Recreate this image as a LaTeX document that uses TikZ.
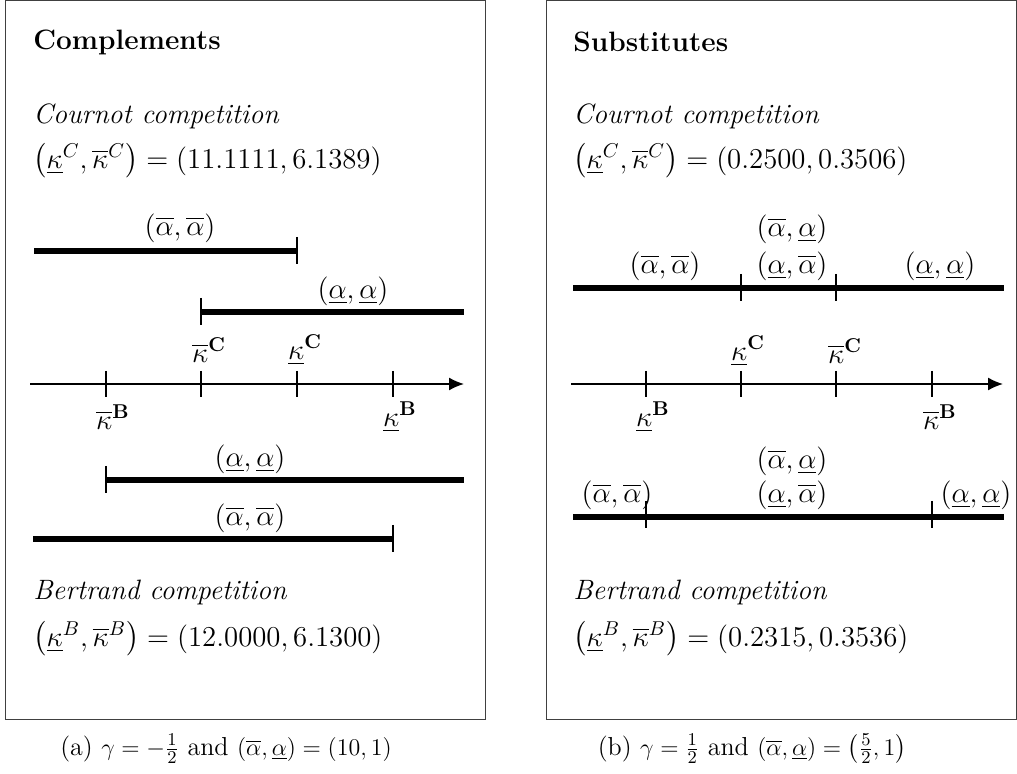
\documentclass[tikz,border=0pt]{standalone}
\usepackage{amsmath}
\usetikzlibrary{arrows.meta}
\newcommand{\fsz}{\fontsize{14}{16.8}\selectfont}
\newcommand{\capsz}{\fontsize{13}{15.6}\selectfont}
\begin{document}
\begin{tikzpicture}[x=0.5pt,y=-0.5pt,
  frame/.style={draw=black!75, line width=0.5pt},
  bar/.style={line width=2.7pt},
  tickmark/.style={line width=0.55pt},
  axisline/.style={line width=0.75pt, -{Latex[length=7.5pt,width=6.5pt]}},
  txt/.style={inner sep=0pt, anchor=west, font=\fsz},
  lbl/.style={inner sep=0pt, font=\fsz},
  captxt/.style={inner sep=0pt, font=\capsz}]
\useasboundingbox (0,0) rectangle (1017,774);
% frames
\draw[frame] (5,1) rectangle (485,719);
\draw[frame] (546,1) rectangle (1016.5,719);

% ===== Left panel: Complements =====
\node[txt] (lt) at (33,42) {\textbf{Complements}};
\node[txt] (lc) at (33,116) {\textit{Cournot competition}};
\node[txt] (lcv) at (33,161) {$\left(\underline{\kappa}^C,\overline{\kappa}^C\right)=(11.1111,6.1389)$};
\node[txt] (lb) at (33,592) {\textit{Bertrand competition}};
\node[txt] (lbv) at (33,639) {$\left(\underline{\kappa}^B,\overline{\kappa}^B\right)=(12.0000,6.1300)$};

% axis
\coordinate (la0) at (30,384);
\coordinate (la1) at (464,384);
\draw[axisline] (la0) -- (la1);
\foreach \n/\x in {1/106,2/201,3/297,4/393}{
  \coordinate (lt\n) at (\x,384);
  \draw[tickmark] ([yshift=6.5pt]lt\n) -- ([yshift=-6.5pt]lt\n);
}
\node[lbl] (lkcb) at (209,350) {$\overline{\kappa}^{\mathbf{C}}$};
\node[lbl] (lkcu) at (305,350) {$\underline{\kappa}^{\mathbf{C}}$};
\node[lbl] (lkbb) at (113,417) {$\overline{\kappa}^{\mathbf{B}}$};
\node[lbl] (lkbu) at (400,417) {$\underline{\kappa}^{\mathbf{B}}$};

% bars (Cournot)
\coordinate (l1a) at (34,251); \coordinate (l1b) at (297,251);
\draw[bar] (l1a) -- (l1b);
\draw[tickmark] ([yshift=7pt]l1b) -- ([yshift=-6.5pt]l1b);
\node[lbl] (l1t) at (180,228) {$(\overline{\alpha},\overline{\alpha})$};

\coordinate (l2a) at (201,312); \coordinate (l2b) at (464,312);
\draw[bar] (l2a) -- (l2b);
\draw[tickmark] ([yshift=7pt]l2a) -- ([yshift=-6.5pt]l2a);
\node[lbl] (l2t) at (353,291) {$(\underline{\alpha},\underline{\alpha})$};

% bars (Bertrand)
\coordinate (l3a) at (106,480); \coordinate (l3b) at (464,480);
\draw[bar] (l3a) -- (l3b);
\draw[tickmark] ([yshift=7pt]l3a) -- ([yshift=-6.5pt]l3a);
\node[lbl] (l3t) at (250,459) {$(\underline{\alpha},\underline{\alpha})$};

\coordinate (l4a) at (33,539); \coordinate (l4b) at (393,539);
\draw[bar] (l4a) -- (l4b);
\draw[tickmark] ([yshift=7pt]l4b) -- ([yshift=-6.5pt]l4b);
\node[lbl] (l4t) at (250,518) {$(\overline{\alpha},\overline{\alpha})$};

% ===== Right panel: Substitutes =====
\node[txt] (rt) at (573,42) {\textbf{Substitutes}};
\node[txt] (rc) at (573,116) {\textit{Cournot competition}};
\node[txt] (rcv) at (573,161) {$\left(\underline{\kappa}^C,\overline{\kappa}^C\right)=(0.2500,0.3506)$};
\node[txt] (rb) at (573,592) {\textit{Bertrand competition}};
\node[txt] (rbv) at (573,639) {$\left(\underline{\kappa}^B,\overline{\kappa}^B\right)=(0.2315,0.3536)$};

\coordinate (ra0) at (571,384);
\coordinate (ra1) at (1003,384);
\draw[axisline] (ra0) -- (ra1);
\foreach \n/\x in {1/646,2/741,3/836,4/932}{
  \coordinate (rt\n) at (\x,384);
  \draw[tickmark] ([yshift=6.5pt]rt\n) -- ([yshift=-6.5pt]rt\n);
}
\node[lbl] (rkcu) at (748,351) {$\underline{\kappa}^{\mathbf{C}}$};
\node[lbl] (rkcb) at (845,351) {$\overline{\kappa}^{\mathbf{C}}$};
\node[lbl] (rkbu) at (653,417) {$\underline{\kappa}^{\mathbf{B}}$};
\node[lbl] (rkbb) at (940,417) {$\overline{\kappa}^{\mathbf{B}}$};

% Cournot bar
\coordinate (r1a) at (573,288); \coordinate (r1b) at (1004,288);
\coordinate (r1p) at (741,288); \coordinate (r1q) at (836,288);
\draw[bar] (r1a) -- (r1b);
\draw[tickmark] ([yshift=7pt]r1p) -- ([yshift=-6.5pt]r1p);
\draw[tickmark] ([yshift=7pt]r1q) -- ([yshift=-6.5pt]r1q);
\node[lbl] (r1t1) at (665,266) {$(\overline{\alpha},\overline{\alpha})$};
\node[lbl] (r1t2) at (792,229) {$(\overline{\alpha},\underline{\alpha})$};
\node[lbl] (r1t3) at (792,266) {$(\underline{\alpha},\overline{\alpha})$};
\node[lbl] (r1t4) at (940,266) {$(\underline{\alpha},\underline{\alpha})$};

% Bertrand bar
\coordinate (r2a) at (573,517); \coordinate (r2b) at (1004,517);
\coordinate (r2p) at (646,517); \coordinate (r2q) at (932,517);
\draw[bar] (r2a) -- (r2b);
\draw[tickmark] ([yshift=8pt]r2p) -- ([yshift=-5.5pt]r2p);
\draw[tickmark] ([yshift=8pt]r2q) -- ([yshift=-5.5pt]r2q);
\node[lbl] (r2t1) at (617,495) {$(\overline{\alpha},\overline{\alpha})$};
\node[lbl] (r2t2) at (792,461) {$(\overline{\alpha},\underline{\alpha})$};
\node[lbl] (r2t3) at (792,495) {$(\underline{\alpha},\overline{\alpha})$};
\node[lbl] (r2t4) at (976,495) {$(\underline{\alpha},\underline{\alpha})$};

% captions
\node[captxt] (capa) at (226,749) {(a) $\gamma=-\frac{1}{2}$ and $(\overline{\alpha},\underline{\alpha})=(10,1)$};
\node[captxt] (capb) at (752,749) {(b) $\gamma=\frac{1}{2}$ and $(\overline{\alpha},\underline{\alpha})=\left(\frac{5}{2},1\right)$};
\end{tikzpicture}
\end{document}
